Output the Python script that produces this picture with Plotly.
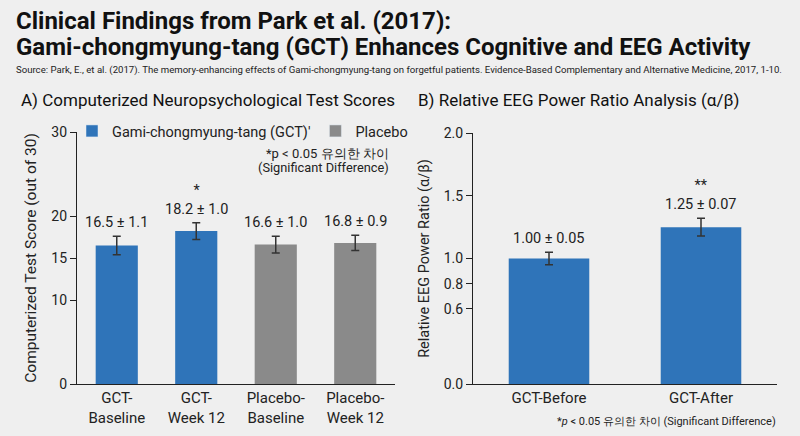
import plotly.graph_objects as go

# данные панели A
test_groups = ["GCT-<br>Baseline", "GCT-<br>Week 12", "Placebo-<br>Baseline", "Placebo-<br>Week 12"]
test_scores = [16.5, 18.2, 16.6, 16.8]
test_errors = [1.1, 1.0, 1.0, 0.9]
test_colors = ["#2f74b9", "#2f74b9", "#8a8a8a", "#8a8a8a"]
test_stars = ["", "*", "", ""]
test_ticks = [0, 10, 15, 20, 30]

# данные панели B
eeg_groups = ["GCT-Before", "GCT-After"]
eeg_ratio = [1.00, 1.25]
eeg_errors = [0.05, 0.07]
eeg_stars = ["", "**"]
eeg_ticks = [0.0, 0.6, 0.8, 1.0, 1.5, 2.0]

FONT = "Roboto"
fig = go.Figure()

fig.add_trace(go.Bar(x=test_groups, y=test_scores, marker=dict(color=test_colors, line=dict(width=0)),
                     error_y=dict(type="data", array=test_errors, color="#333333", thickness=1.5, width=4),
                     xaxis="x", yaxis="y", showlegend=False))
fig.add_trace(go.Bar(x=eeg_groups, y=eeg_ratio, marker=dict(color="#2f74b9", line=dict(width=0)),
                     error_y=dict(type="data", array=eeg_errors, color="#333333", thickness=1.5, width=4),
                     xaxis="x2", yaxis="y2", showlegend=False))

# элементы легенды
fig.add_trace(go.Bar(x=[None], y=[None], marker_color="#2f74b9", name="Gami-chongmyung-tang (GCT)'",
                     xaxis="x", yaxis="y"))
fig.add_trace(go.Bar(x=[None], y=[None], marker_color="#8a8a8a", name="Placebo", xaxis="x", yaxis="y"))

ann = []
for g, v, e, s in zip(test_groups, test_scores, test_errors, test_stars):
    txt = f"{v:.1f} ± {e:.1f}"
    if s:
        txt = s + "<br>" + txt
    ann.append(dict(x=g, y=v + e, xref="x", yref="y", text=txt, showarrow=False, yanchor="bottom",
                    yshift=3, font=dict(size=14.5, color="#222")))
for g, v, e, s in zip(eeg_groups, eeg_ratio, eeg_errors, eeg_stars):
    txt = f"{v:.2f} ± {e:.2f}"
    if s:
        txt = s + "<br>" + txt
    ann.append(dict(x=g, y=v + e, xref="x2", yref="y2", text=txt, showarrow=False, yanchor="bottom",
                    yshift=3, font=dict(size=14.5, color="#222")))


def note(x, y, text, size, anchor="left", color="#111"):
    return dict(x=x / 800, y=1 - y / 436, xref="paper", yref="paper", xanchor=anchor, yanchor="middle",
                showarrow=False, text=text, font=dict(size=size, color=color))


ann += [
    note(14, 21, "<b>Clinical Findings from Park et al. (2017):</b>", 24),
    note(14, 47, "<b>Gami-chongmyung-tang (GCT) Enhances Cognitive and EEG Activity</b>", 24),
    note(14, 70, "Source: Park, E., et al. (2017). The memory-enhancing effects of Gami-chongmyung-tang on forgetful patients. "
                 "Evidence-Based Complementary and Alternative Medicine, 2017, 1-10.", 9.6, color="#222"),
    note(19, 100, "A) Computerized Neuropsychological Test Scores", 17),
    note(416, 100, "B) Relative EEG Power Ratio Analysis (α/β)", 17),
    note(391, 153, "*p < 0.05 유의한 차이", 13, anchor="right", color="#222"),
    note(391, 167, "(Significant Difference)", 12.8, anchor="right", color="#222"),
    note(778, 421, "*<i>p</i> < 0.05 유의한 차이 (Significant Difference)", 11, anchor="right", color="#222"),
]

axis_common = dict(showline=True, linecolor="#222", linewidth=1.2, showgrid=False, zeroline=False,
                   automargin=False, tickfont=dict(size=14, color="#222"))

fig.update_layout(
    width=800, height=436, margin=dict(l=0, r=0, t=0, b=0, autoexpand=False),
    paper_bgcolor="#efefef", plot_bgcolor="#efefef",
    font=dict(family=FONT, color="#222"),
    bargap=0.47,
    xaxis=dict(domain=[77 / 800, 395 / 800], anchor="y", ticks="", **axis_common),
    yaxis=dict(domain=[1 - 384 / 436, 1 - 132 / 436], anchor="x", range=[0, 30], tickvals=test_ticks,
               ticks="outside", ticklen=6, tickcolor="#222",
               title=dict(text="Computerized Test Score (out of 30)", font=dict(size=15.5), standoff=10),
               **axis_common),
    xaxis2=dict(domain=[473 / 800, 777 / 800], anchor="y2", ticks="", **axis_common),
    yaxis2=dict(domain=[1 - 384 / 436, 1 - 133 / 436], anchor="x2", range=[0, 2], tickvals=eeg_ticks,
                tickformat=".1f", ticks="outside", ticklen=6, tickcolor="#222",
                title=dict(text="Relative EEG Power Ratio (α/β)", font=dict(size=14.5), standoff=10),
                **axis_common),
    legend=dict(orientation="h", x=72 / 800, y=1 - 131 / 436, xanchor="left", yanchor="middle",
                bgcolor="rgba(0,0,0,0)", font=dict(size=14.5, color="#222"), itemwidth=30,
                traceorder="normal"),
    annotations=ann,
)
fig.update_xaxes(tickfont=dict(size=15))

# убрать отступ body, чтобы график встал ровно в окно 800x436
fig.write_html("out.html", config={"displayModeBar": False},
               post_script="document.body.style.margin='0';document.body.style.overflow='hidden';")
